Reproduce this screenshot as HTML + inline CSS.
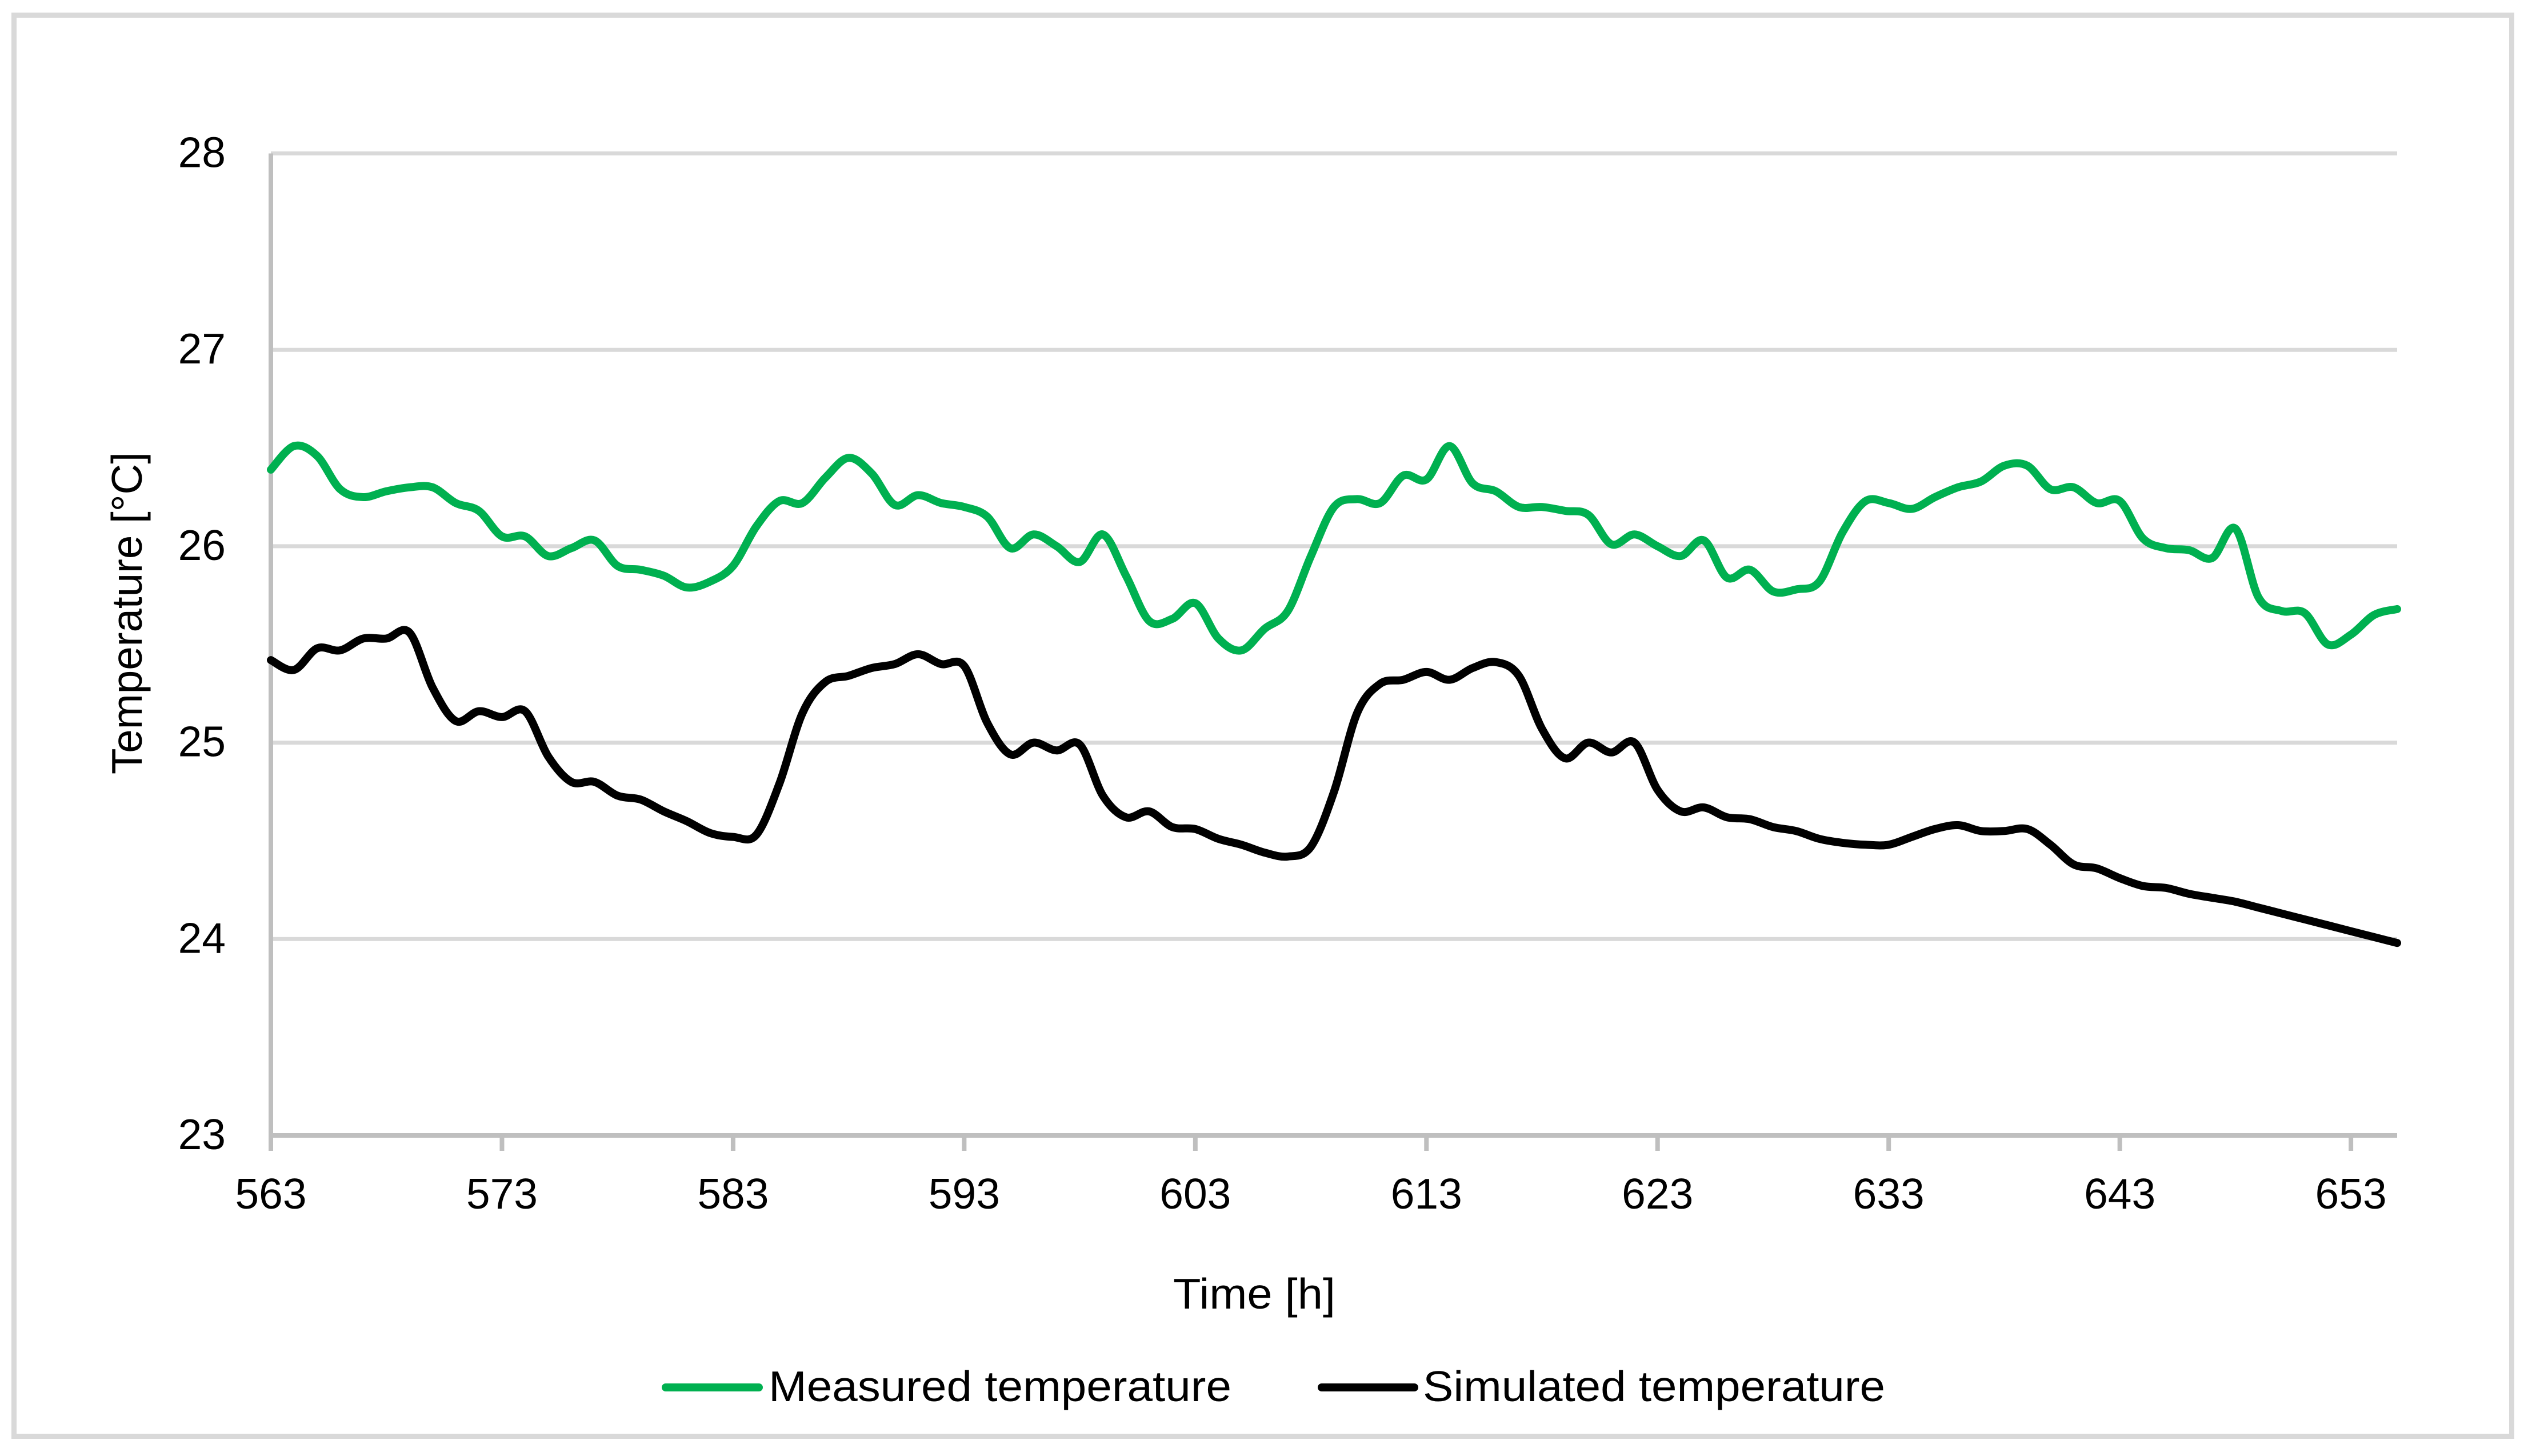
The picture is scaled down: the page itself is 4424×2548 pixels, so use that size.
<!DOCTYPE html>
<html lang="en">
<head>
<meta charset="utf-8">
<title>Measured and simulated temperature</title>
<style>
html,body{margin:0;padding:0;background:#fff;width:4424px;height:2548px;overflow:hidden}
svg{display:block}
text{font-family:"Liberation Sans",sans-serif;fill:#000;font-size:75px}
</style>
</head>
<body>
<svg id="chart" xmlns="http://www.w3.org/2000/svg" width="4424" height="2548" viewBox="0 0 4424 2548">
<rect x="24.5" y="26.5" width="4371" height="2487" fill="#fff" stroke="#d9d9d9" stroke-width="9"/>
<g id="grid"></g>
<g id="axes"></g>
<g id="series"></g>
<text transform="translate(248,1073) rotate(-90)" text-anchor="middle" textLength="564" lengthAdjust="spacingAndGlyphs">Temperature [°C]</text>
<text x="2195" y="2290" text-anchor="middle" textLength="284" lengthAdjust="spacingAndGlyphs">Time [h]</text>
<g>
<line x1="1165" y1="2428" x2="1328" y2="2428" stroke="#00b050" stroke-width="14" stroke-linecap="round"/>
<text x="1345" y="2452" textLength="810" lengthAdjust="spacingAndGlyphs">Measured temperature</text>
<line x1="2313" y1="2428" x2="2475" y2="2428" stroke="#000" stroke-width="14" stroke-linecap="round"/>
<text x="2490" y="2452" textLength="809" lengthAdjust="spacingAndGlyphs">Simulated temperature</text>
</g>
</svg>
<script>
const startHour = 563;
const yTickValues = [23, 24, 25, 26, 27, 28];
const xTickValues = [563, 573, 583, 593, 603, 613, 623, 633, 643, 653];
const measuredTemperature = [
26.39,26.51,26.46,26.29,26.25,26.28,26.30,26.30,26.22,26.18,
26.05,26.05,25.95,25.99,26.03,25.90,25.88,25.85,25.79,25.82,
25.90,26.10,26.23,26.22,26.35,26.45,26.37,26.21,26.26,26.22,
26.20,26.15,25.99,26.06,26.00,25.92,26.06,25.85,25.62,25.63,
25.71,25.53,25.47,25.58,25.67,25.95,26.20,26.24,26.22,26.36,
26.34,26.51,26.32,26.28,26.20,26.20,26.18,26.16,26.01,26.06,
26.00,25.95,26.03,25.84,25.88,25.77,25.78,25.82,26.07,26.23,
26.22,26.19,26.25,26.30,26.33,26.41,26.41,26.29,26.30,26.22,
26.23,26.04,25.99,25.98,25.94,26.09,25.74,25.67,25.66,25.50,
25.55,25.65,25.68
];
const simulatedTemperature = [
25.42,25.37,25.48,25.47,25.53,25.53,25.56,25.28,25.11,25.16,
25.13,25.16,24.93,24.80,24.80,24.73,24.71,24.65,24.60,24.54,
24.52,24.53,24.79,25.15,25.31,25.34,25.38,25.40,25.45,25.40,
25.39,25.10,24.94,25.00,24.96,24.99,24.73,24.62,24.65,24.57,
24.56,24.51,24.48,24.44,24.42,24.47,24.75,25.15,25.30,25.32,
25.36,25.32,25.38,25.41,25.34,25.07,24.92,25.00,24.95,25.00,
24.76,24.65,24.67,24.62,24.61,24.57,24.55,24.51,24.49,24.48,
24.48,24.52,24.56,24.58,24.55,24.55,24.56,24.48,24.38,24.36,
24.31,24.27,24.26,24.23,24.21,24.19,24.16,24.13,24.10,24.07,
24.04,24.01,23.98
];

const SVG_NS = 'http://www.w3.org/2000/svg';
const plotLeft = 474, plotRight = 4195, plotTop = 268.5, plotBottom = 1987;
const hoursSpan = measuredTemperature.length - 1;
const xScale = h => plotLeft + (h - startHour) * (plotRight - plotLeft) / hoursSpan;
const yScale = v => plotBottom - (v - 23) * (plotBottom - plotTop) / 5;

function smoothPath(values) {
  const pts = values.map((v, i) => [xScale(startHour + i), yScale(v)]);
  let d = 'M' + pts[0][0].toFixed(1) + ' ' + pts[0][1].toFixed(1);
  for (let i = 0; i < pts.length - 1; i++) {
    const p0 = pts[Math.max(i - 1, 0)], p1 = pts[i], p2 = pts[i + 1], p3 = pts[Math.min(i + 2, pts.length - 1)];
    const c1x = p1[0] + (p2[0] - p0[0]) / 6, c1y = p1[1] + (p2[1] - p0[1]) / 6;
    const c2x = p2[0] - (p3[0] - p1[0]) / 6, c2y = p2[1] - (p3[1] - p1[1]) / 6;
    d += 'C' + c1x.toFixed(1) + ' ' + c1y.toFixed(1) + ' ' + c2x.toFixed(1) + ' ' + c2y.toFixed(1) + ' ' + p2[0].toFixed(1) + ' ' + p2[1].toFixed(1);
  }
  return d;
}

const grid = document.getElementById('grid');
const axes = document.getElementById('axes');
const series = document.getElementById('series');

yTickValues.forEach(v => {
  if (v !== 23) {
    const gl = document.createElementNS(SVG_NS, 'line');
    
    
    gl.setAttribute('x1', plotLeft);
    gl.setAttribute('x2', plotRight);
    gl.setAttribute('y1', yScale(v));
    gl.setAttribute('y2', yScale(v));
    gl.setAttribute('stroke', '#d9d9d9');
    gl.setAttribute('stroke-width', '7');
    grid.appendChild(gl);
  }
  const t = document.createElementNS(SVG_NS, 'text');
  
  
  t.setAttribute('x', 395);
  t.setAttribute('y', yScale(v) + 24);
  t.setAttribute('text-anchor', 'end');
  t.textContent = v;
  axes.appendChild(t);
});

const yAxisLine = document.createElementNS(SVG_NS, 'line');


yAxisLine.setAttribute('x1', plotLeft);
yAxisLine.setAttribute('x2', plotLeft);
yAxisLine.setAttribute('y1', plotTop);
yAxisLine.setAttribute('y2', plotBottom);
yAxisLine.setAttribute('stroke', '#bfbfbf');
yAxisLine.setAttribute('stroke-width', '8');
axes.appendChild(yAxisLine);

const xAxisLine = document.createElementNS(SVG_NS, 'line');


xAxisLine.setAttribute('x1', plotLeft);
xAxisLine.setAttribute('x2', plotRight);
xAxisLine.setAttribute('y1', plotBottom);
xAxisLine.setAttribute('y2', plotBottom);
xAxisLine.setAttribute('stroke', '#bfbfbf');
xAxisLine.setAttribute('stroke-width', '8');
axes.appendChild(xAxisLine);

xTickValues.forEach(h => {
  const tk = document.createElementNS(SVG_NS, 'line');
  
  
  tk.setAttribute('x1', xScale(h));
  tk.setAttribute('x2', xScale(h));
  tk.setAttribute('y1', plotBottom);
  tk.setAttribute('y2', plotBottom + 27);
  tk.setAttribute('stroke', '#bfbfbf');
  tk.setAttribute('stroke-width', '8');
  axes.appendChild(tk);
  const t = document.createElementNS(SVG_NS, 'text');
  
  
  t.setAttribute('x', xScale(h));
  t.setAttribute('y', 2115);
  t.setAttribute('text-anchor', 'middle');
  t.textContent = h;
  axes.appendChild(t);
});

const measuredLine = document.createElementNS(SVG_NS, 'path');


measuredLine.setAttribute('d', smoothPath(measuredTemperature));
measuredLine.setAttribute('fill', 'none');
measuredLine.setAttribute('stroke', '#00b050');
measuredLine.setAttribute('stroke-width', '14');
measuredLine.setAttribute('stroke-linecap', 'round');
measuredLine.setAttribute('stroke-linejoin', 'round');
series.appendChild(measuredLine);

const simulatedLine = document.createElementNS(SVG_NS, 'path');


simulatedLine.setAttribute('d', smoothPath(simulatedTemperature));
simulatedLine.setAttribute('fill', 'none');
simulatedLine.setAttribute('stroke', '#000');
simulatedLine.setAttribute('stroke-width', '14');
simulatedLine.setAttribute('stroke-linecap', 'round');
simulatedLine.setAttribute('stroke-linejoin', 'round');
series.appendChild(simulatedLine);
</script>
</body>
</html>
